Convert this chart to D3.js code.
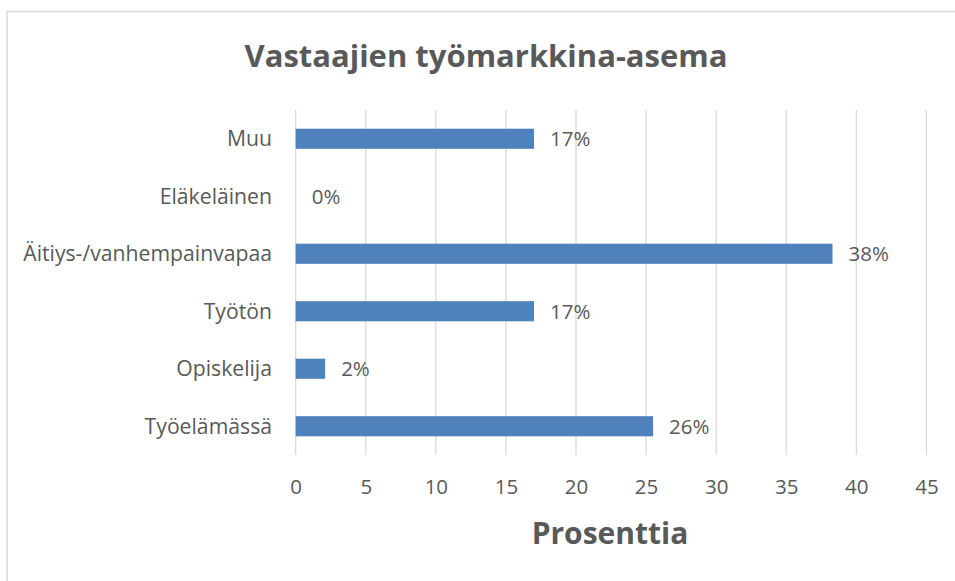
<!DOCTYPE html>
<html>
<head>
<meta charset="utf-8">
<script src="https://cdn.jsdelivr.net/npm/d3@7/dist/d3.min.js"></script>
<style>
  html, body { margin: 0; padding: 0; background: #fff; }
  svg { display: block; }
  text { font-family: "Open Sans", "DejaVu Sans", sans-serif; fill: #595959; }
</style>
</head>
<body>
<svg id="chart" width="955" height="581"></svg>
<script>
const categories = ["Muu", "Eläkeläinen", "Äitiys-/vanhempainvapaa", "Työtön", "Opiskelija", "Työelämässä"];
const values = [17.0, 0, 38.3, 17.0, 2.1, 25.5];
const valueLabels = ["17%", "0%", "38%", "17%", "2%", "26%"];
const xTicks = [0, 5, 10, 15, 20, 25, 30, 35, 40, 45];
const titleText = "Vastaajien työmarkkina-asema";
const xTitleText = "Prosenttia";

const svg = d3.select("#chart");

// chart border (only left and top visible in frame)
svg.append("rect")
  .attr("x", 7).attr("y", 11.5)
  .attr("width", 960).attr("height", 600)
  .attr("fill", "none").attr("stroke", "#D9D9D9").attr("stroke-width", 1.5);

const x = d3.scaleLinear().domain([0, 45]).range([295.7, 926.4]);
const y = d3.scaleBand().domain(categories).range([110, 455]).paddingInner(0.65).paddingOuter(0.325);

// gridlines
svg.append("g").selectAll("line").data(xTicks).join("line")
  .attr("x1", d => x(d)).attr("x2", d => x(d))
  .attr("y1", 110).attr("y2", 455)
  .attr("stroke", "#D9D9D9").attr("stroke-width", 1.3);

// bars
svg.append("g").selectAll("rect").data(categories).join("rect")
  .attr("x", x(0))
  .attr("y", d => y(d))
  .attr("width", (d, i) => x(values[i]) - x(0))
  .attr("height", y.bandwidth())
  .attr("fill", "#4F81BD");

// value labels
svg.append("g").selectAll("text").data(categories).join("text")
  .attr("x", (d, i) => x(values[i]) + 16)
  .attr("y", d => y(d) + y.bandwidth() / 2)
  .attr("dy", "0.36em")
  .attr("font-size", 20.5)
  .text((d, i) => valueLabels[i]);

// category axis labels
svg.append("g").selectAll("text").data(categories).join("text")
  .attr("x", 272)
  .attr("y", d => y(d) + y.bandwidth() / 2)
  .attr("dy", "0.36em")
  .attr("text-anchor", "end")
  .attr("font-size", 21.2)
  .text(d => d);

// x axis using d3 axis for ticks
const xAxis = d3.axisBottom(x).tickValues(xTicks).tickSize(0).tickPadding(0).tickFormat(d3.format("d"));
const gx = svg.append("g").attr("transform", "translate(0,494)").call(xAxis);
gx.select(".domain").remove();
gx.selectAll("text")
  .attr("font-size", 20.5)
  .attr("fill", "#595959")
  .style("font-family", '"Open Sans", sans-serif')
  .attr("dy", "0");

// title
svg.append("text")
  .attr("x", 486).attr("y", 67)
  .attr("text-anchor", "middle")
  .attr("font-size", 31).attr("font-weight", "bold")
  .text(titleText);

// x axis title
svg.append("text")
  .attr("x", 610).attr("y", 544)
  .attr("text-anchor", "middle")
  .attr("font-size", 30).attr("font-weight", "bold")
  .text(xTitleText);
</script>
</body>
</html>
